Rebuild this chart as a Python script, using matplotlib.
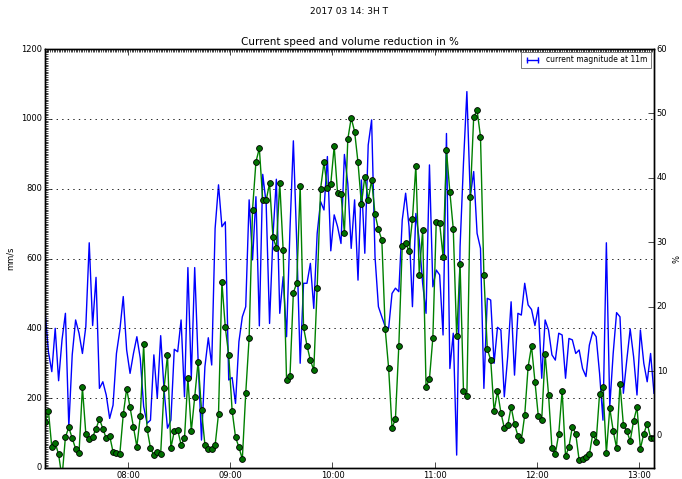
import datetime as dt
import matplotlib
matplotlib.use('Agg')
import matplotlib.pyplot as plt
import matplotlib.dates as mdates
from matplotlib.lines import Line2D
from matplotlib.ticker import MultipleLocator

plt.style.use('classic')

# ---- data ----
start_time = dt.datetime(2017, 3, 14, 7, 11)
step_minutes = 2

speed_mm_s = [
    452, 333, 276, 400, 250, 367, 443, 118, 324, 424,
    386, 328, 405, 645, 408, 546, 228, 247, 209, 142,
    180, 328, 395, 491, 338, 271, 328, 376, 314, 176,
    128, 137, 324, 200, 379, 223, 114, 137, 340, 333,
    424, 204, 574, 257, 574, 309, 80, 290, 373, 295,
    686, 811, 691, 705, 252, 259, 185, 362, 433, 462,
    768, 596, 777, 407, 841, 758, 414, 663, 827, 443,
    548, 376, 682, 937, 643, 300, 529, 529, 586, 457,
    672, 763, 739, 892, 622, 725, 691, 643, 898, 815,
    629, 768, 538, 825, 615, 925, 997, 605, 462, 433,
    405, 400, 500, 515, 505, 710, 787, 691, 462, 729,
    653, 529, 443, 868, 519, 567, 553, 381, 958, 285,
    386, 37, 634, 873, 1078, 777, 849, 672, 629, 228,
    486, 481, 300, 403, 395, 204, 319, 476, 266, 443,
    438, 529, 467, 454, 408, 460, 257, 424, 395, 324,
    309, 386, 381, 257, 371, 367, 328, 338, 285, 262,
    352, 390, 376, 271, 137, 645, 176, 328, 445, 433,
    214, 309, 398, 319, 209, 395, 300, 247, 328, 214,
]

volume_reduction_pct = [
    2.1, 3.9, -1.8, -1.1, -2.9, -6.5, -0.2, 1.3, -0.4, -2.0,
    -2.7, 7.5, 0.3, -0.5, -0.2, 1.1, 2.6, 1.1, -0.4, 0.0,
    -2.5, -2.7, -2.8, 3.3, 7.3, 4.4, 1.3, -1.7, 3.0, 14.2,
    1.1, -1.9, -3.0, -2.5, -2.8, 7.4, 12.5, -1.9, 0.7, 0.9,
    -1.4, -0.4, 9.0, 0.7, 6.0, 11.5, 4.0, -1.4, -2.1, -2.1,
    -1.5, 3.4, 23.8, 16.8, 12.5, 3.9, -0.2, -1.8, -3.6, 6.6,
    15.2, 35.1, 42.5, 44.6, 36.5, 36.5, 39.2, 30.8, 29.2, 39.2,
    28.8, 8.7, 9.2, 22.2, 23.7, 38.8, 16.8, 14.0, 11.7, 10.2,
    23.0, 38.3, 42.4, 38.4, 39.1, 44.9, 37.6, 37.5, 31.5, 46.0,
    49.3, 47.2, 42.4, 35.9, 40.2, 36.6, 39.7, 34.4, 32.0, 30.4,
    16.5, 10.5, 1.2, 2.6, 14.0, 29.5, 29.9, 28.6, 33.6, 41.9,
    25.0, 31.9, 7.6, 8.8, 15.2, 33.2, 33.0, 27.8, 44.3, 37.8,
    32.1, 15.4, 26.7, 7.0, 6.1, 37.0, 49.4, 50.5, 46.4, 25.0,
    13.4, 11.8, 3.8, 6.9, 3.6, 1.2, 1.6, 4.5, 1.8, 0.0,
    -0.7, 3.2, 10.7, 13.9, 8.4, 3.0, 2.5, 12.7, 6.4, -1.9,
    -2.8, 0.3, 7.0, -3.2, -1.7, 1.4, 0.3, -3.8, -3.6, -3.3,
    -2.9, 0.3, -0.9, 6.5, 7.5, -2.7, 4.3, 0.8, -1.9, 8.1,
    1.7, 0.7, -0.8, 2.3, 4.4, -2.0, 0.3, 1.9, -0.3, -0.4,
]

times = [start_time + dt.timedelta(minutes=step_minutes * i) for i in range(len(speed_mm_s))]

left_ticks = [0, 200, 400, 600, 800, 1000, 1200]
right_ticks = [0, 10, 20, 30, 40, 50, 60]

suptitle_text = '2017 03 14: 3H T'
title_text = 'Current speed and volume reduction in %'
legend_label = 'current magnitude at 11m'

# ---- figure ----
W, H = 682, 479
fig = plt.figure(figsize=(W / 100, H / 100), dpi=100, facecolor='white')
ax1 = fig.add_axes([45 / W, 11 / H, 609 / W, 419 / H])

ax1.plot(times, speed_mm_s, color='b', lw=1.0)
ax1.set_ylim(0, 1200)
ax1.set_yticks(left_ticks)
ax1.set_xlim(times[0], times[-1])
ax1.xaxis.set_major_locator(mdates.HourLocator())
ax1.xaxis.set_major_formatter(mdates.DateFormatter('%H:%M'))
ax1.xaxis.set_minor_locator(mdates.MinuteLocator(interval=1))
ax1.yaxis.set_minor_locator(MultipleLocator(5))
ax1.grid(True, axis='y', linestyle=':', color='k', lw=0.6)
ax1.tick_params(which='major', labelsize=6, direction='in', length=4, pad=2)
ax1.tick_params(which='minor', direction='in', length=2, bottom=False, top=True, right=False)
ax1.set_ylabel('mm/s', fontsize=6)
ax1.yaxis.set_label_coords(-0.05, 0.5)
ax1.set_title(title_text, fontsize=7.5, pad=3)

ax2 = ax1.twinx()
ax2.plot(times, volume_reduction_pct, color='g', lw=1.0, marker='o', ms=4.2,
         mfc='#007000', mec='k', mew=0.6)
ax2.set_ylim(-5, 60)
ax2.set_yticks(right_ticks)
ax2.tick_params(which='major', labelsize=6, direction='in', length=4, pad=2)
ax2.set_ylabel('%', fontsize=6)
ax2.yaxis.set_label_coords(1.03, 0.5)

handle = Line2D([], [], color='b', lw=1.0, marker='|', ms=5, mew=1.0)
leg = ax2.legend([handle], [legend_label], loc='upper right', fontsize=5.5, numpoints=2,
                 handlelength=2.0, borderaxespad=0.35, borderpad=0.5, frameon=True)
leg.get_frame().set_linewidth(0.6)
leg.get_frame().set_edgecolor('0.4')

fig.text(349 / W, 1 - 12 / H, suptitle_text, ha='center', va='center', fontsize=6.5)

fig.savefig('out.png', dpi=100, facecolor='white')
